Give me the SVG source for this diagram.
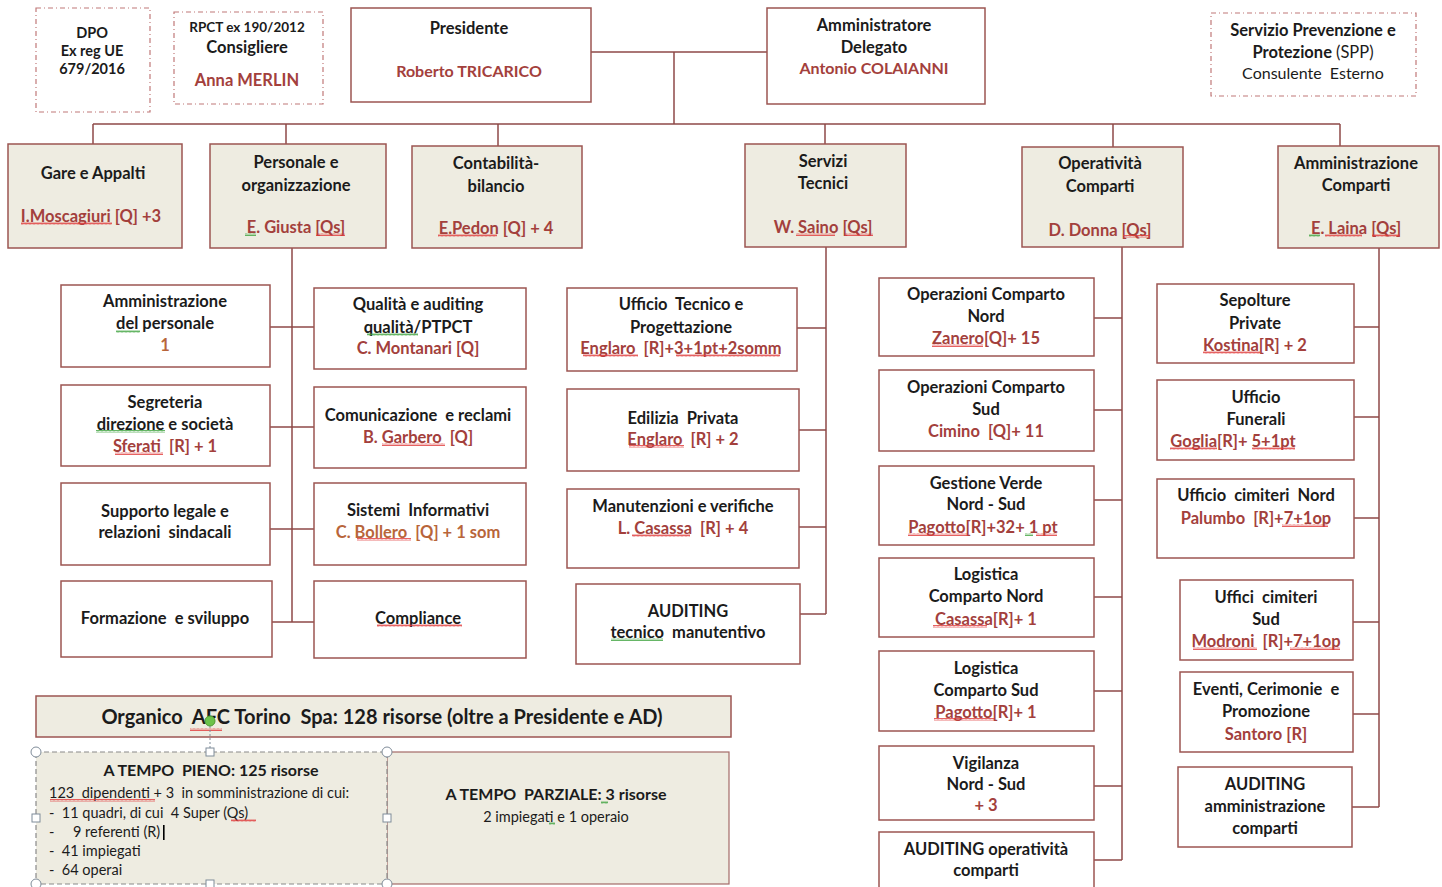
<svg xmlns="http://www.w3.org/2000/svg" width="1442" height="887" viewBox="0 0 1442 887">
<style>
text{font-family:Lato,"Open Sans","Liberation Sans",sans-serif;font-weight:700;fill:#1b1b1b;text-anchor:middle;font-size:16.5px;white-space:pre}
.r{fill:#A3403C}
.o{fill:#B8653A}
.n{font-weight:400}
.s13{font-size:13.5px}
.s14{font-size:14.5px}
.s16{font-size:16px}
.s20{font-size:20px}
.st{text-anchor:start}
.box{fill:#fff;stroke:#9C5552;stroke-width:1.5}
.l1{fill:#EEECE1;stroke:#9C5552;stroke-width:1.5}
.dash{fill:#fff;stroke:#C07878;stroke-width:1.2;stroke-dasharray:5 3 1 3}
.ln{stroke:#8E4A48;stroke-width:1.5;fill:none}
.sq{fill:url(#sqr)}
.sg{fill:url(#sqg)}
.h{fill:#fff;stroke:#7F8C99;stroke-width:1}
</style>
<defs>
<pattern id="sqr" width="4" height="3" patternUnits="userSpaceOnUse"><path d="M0 2.5 L1 0.5 L2 2.5 L3 0.5 L4 2.5" stroke="#E03A3A" stroke-width="0.8" fill="none"/></pattern>
<pattern id="sqg" width="4" height="3" patternUnits="userSpaceOnUse"><path d="M0 2.5 L1 0.5 L2 2.5 L3 0.5 L4 2.5" stroke="#3FA33F" stroke-width="0.8" fill="none"/></pattern>
</defs>
<rect width="1442" height="887" fill="#fff"/>
<g id="connectors">
<path class="ln" d="M591 52 H767 M674 52 V124 M93 124 H1340 M93 124 V144 M286 124 V144 M498 124 V146 M825 124 V144 M1113 124 V147 M1340 124 V146"/>
<path class="ln" d="M292 248 V622 M270 327 H314 M270 427 H314 M270 529 H314 M272 622 H314"/>
<path class="ln" d="M826 247 V614 M797 328 H826 M799 430 H826 M799 527 H826 M800 614 H826"/>
<path class="ln" d="M1122 247 V860 M1094 318 H1122 M1094 410 H1122 M1094 500 H1122 M1094 597 H1122 M1094 691 H1122 M1094 786 H1122 M1094 860 H1122"/>
<path class="ln" d="M1379 248 V807 M1354 327 H1379 M1354 417 H1379 M1354 518 H1379 M1353 622 H1379 M1353 714 H1379 M1352 807 H1379"/>
</g>
<g id="dpo"><rect class="dash" x="36" y="8" width="114" height="104"/>
<text class="s14" x="92" y="38">DPO</text><text class="s14" x="92" y="56">Ex reg UE</text><text class="s14" x="92" y="74">679/2016</text></g>
<g id="rpct"><rect class="dash" x="174" y="12" width="149" height="92"/>
<text class="s13" x="247" y="32">RPCT ex 190/2012</text><text x="247" y="53">Consigliere</text><text class="r" x="247" y="86">Anna MERLIN</text></g>
<g id="presidente"><rect class="box" x="351" y="8" width="240" height="94"/>
<text x="469" y="34">Presidente</text><text class="s16 r" x="469" y="77">Roberto TRICARICO</text></g>
<g id="ad"><rect class="box" x="767" y="8" width="218" height="96"/>
<text x="874" y="31">Amministratore</text><text x="874" y="53">Delegato</text><text class="s16 r" x="874" y="74">Antonio COLAIANNI</text></g>
<g id="spp"><rect class="dash" x="1211" y="13" width="205" height="83"/>
<text x="1313" y="36">Servizio Prevenzione e</text><text x="1313" y="58">Protezione <tspan class="n">(SPP)</tspan></text><text class="s16 n" x="1313" y="79">Consulente  Esterno</text></g>
<g id="gare"><rect class="l1" x="8" y="144" width="174" height="104"/>
<text x="93" y="179">Gare e Appalti</text><text class="r" x="91" y="222">I.Moscagiuri [Q] +3</text>
<rect class="sq" x="21" y="222" width="91" height="3"/></g>
<g id="personale"><rect class="l1" x="210" y="144" width="176" height="104"/>
<text x="296" y="168">Personale e</text><text x="296" y="191">organizzazione</text><text class="r" x="296" y="233">E. Giusta [Qs]</text>
<rect class="sg" x="245" y="233" width="11" height="3"/><rect class="sq" x="316" y="233" width="29" height="3"/></g>
<g id="contabilita"><rect class="l1" x="412" y="146" width="170" height="102"/>
<text x="496" y="169">Contabilità-</text><text x="496" y="192">bilancio</text><text class="r" x="496" y="234">E.Pedon [Q] + 4</text>
<rect class="sq" x="438" y="234" width="59" height="3"/></g>
<g id="servizi"><rect class="l1" x="745" y="144" width="161" height="103"/>
<text x="823" y="167">Servizi</text><text x="823" y="189">Tecnici</text><text class="r" x="823" y="233">W. Saino [Qs]</text>
<rect class="sq" x="796" y="233" width="39" height="3"/><rect class="sq" x="845" y="233" width="28" height="3"/></g>
<g id="operativita"><rect class="l1" x="1022" y="147" width="161" height="100"/>
<text x="1100" y="169">Operatività</text><text x="1100" y="192">Comparti</text><text class="r" x="1100" y="236">D. Donna [Qs]</text>
<rect class="sq" x="1123" y="235" width="27" height="3"/></g>
<g id="ammcomparti"><rect class="l1" x="1278" y="146" width="161" height="102"/>
<text x="1356" y="169">Amministrazione</text><text x="1356" y="191">Comparti</text><text class="r" x="1356" y="234">E. Laina [Qs]</text>
<rect class="sg" x="1309" y="234" width="11" height="3"/><rect class="sq" x="1325" y="234" width="37" height="3"/><rect class="sq" x="1372" y="234" width="28" height="3"/></g>
<g id="amm-personale"><rect class="box" x="61" y="285" width="209" height="82"/>
<text x="165" y="307">Amministrazione</text><text x="165" y="329">del personale</text><text class="o" x="165" y="351">1</text>
<rect class="sg" x="116" y="330" width="24" height="3"/></g>
<g id="segreteria"><rect class="box" x="61" y="385" width="209" height="81"/>
<text x="165" y="408">Segreteria</text><text x="165" y="430">direzione e società</text><text class="r" x="165" y="452">Sferati  [R] + 1</text>
<rect class="sg" x="96" y="430" width="69" height="3"/><rect class="sq" x="115" y="452" width="48" height="3"/></g>
<g id="supporto"><rect class="box" x="61" y="483" width="209" height="82"/>
<text x="165" y="517">Supporto legale e</text><text x="165" y="538">relazioni  sindacali</text></g>
<g id="formazione"><rect class="box" x="61" y="581" width="211" height="76"/>
<text x="165" y="624">Formazione  e sviluppo</text></g>
<g id="qualita"><rect class="box" x="314" y="288" width="212" height="81"/>
<text x="418" y="310">Qualità e auditing</text><text x="418" y="333">qualità/PTPCT</text><text class="r" x="418" y="354">C. Montanari [Q]</text>
<rect class="sg" x="367" y="333" width="51" height="3"/></g>
<g id="comunicazione"><rect class="box" x="314" y="387" width="212" height="81"/>
<text x="418" y="421">Comunicazione  e reclami</text><text class="r" x="418" y="443">B. Garbero  [Q]</text>
<rect class="sq" x="382" y="443" width="63" height="3"/></g>
<g id="sistemi"><rect class="box" x="314" y="483" width="212" height="82"/>
<text x="418" y="516">Sistemi  Informativi</text><text class="o" x="418" y="538">C. Bollero  [Q] + 1 som</text>
<rect class="sq" x="357" y="538" width="54" height="3"/></g>
<g id="compliance"><rect class="box" x="314" y="581" width="212" height="77"/>
<text x="418" y="624">Compliance</text>
<rect class="sq" x="377" y="624" width="85" height="3"/></g>
<g id="ufficio-tecnico"><rect class="box" x="567" y="288" width="230" height="83"/>
<text x="681" y="310">Ufficio  Tecnico e</text><text x="681" y="333">Progettazione</text><text class="r" x="681" y="354">Englaro  [R]+3+1pt+2somm</text>
<rect class="sq" x="583" y="354" width="55" height="3"/><rect class="sq" x="676" y="354" width="104" height="3"/></g>
<g id="edilizia"><rect class="box" x="567" y="389" width="232" height="82"/>
<text x="683" y="424">Edilizia  Privata</text><text class="r" x="683" y="445">Englaro  [R] + 2</text>
<rect class="sq" x="629" y="445" width="55" height="3"/></g>
<g id="manutenzioni"><rect class="box" x="567" y="489" width="232" height="79"/>
<text x="683" y="512">Manutenzioni e verifiche</text><text class="r" x="683" y="534">L. Casassa  [R] + 4</text>
<rect class="sq" x="632" y="534" width="58" height="3"/></g>
<g id="auditing-tecnico"><rect class="box" x="576" y="584" width="224" height="80"/>
<text x="688" y="617">AUDITING</text><text x="688" y="638">tecnico  manutentivo</text>
<rect class="sg" x="611" y="638" width="52" height="3"/></g>
<g id="op-nord"><rect class="box" x="879" y="278" width="215" height="78"/>
<text x="986" y="300">Operazioni Comparto</text><text x="986" y="322">Nord</text><text class="r" x="986" y="344">Zanero[Q]+ 15</text>
<rect class="sq" x="932" y="344" width="51" height="3"/></g>
<g id="op-sud"><rect class="box" x="879" y="370" width="215" height="81"/>
<text x="986" y="393">Operazioni Comparto</text><text x="986" y="415">Sud</text><text class="r" x="986" y="437">Cimino  [Q]+ 11</text></g>
<g id="verde"><rect class="box" x="879" y="466" width="215" height="79"/>
<text x="986" y="489">Gestione Verde</text><text x="986" y="510">Nord - Sud</text><text class="r" x="983" y="533">Pagotto[R]+32+ 1 pt</text>
<rect class="sq" x="908" y="533" width="60" height="3"/><rect class="sg" x="1025" y="533" width="8" height="3"/><rect class="sq" x="1036" y="533" width="21" height="3"/></g>
<g id="log-nord"><rect class="box" x="879" y="558" width="215" height="79"/>
<text x="986" y="580">Logistica</text><text x="986" y="602">Comparto Nord</text><text class="r" x="986" y="625">Casassa[R]+ 1</text>
<rect class="sq" x="933" y="625" width="54" height="3"/></g>
<g id="log-sud"><rect class="box" x="879" y="651" width="215" height="80"/>
<text x="986" y="674">Logistica</text><text x="986" y="696">Comparto Sud</text><text class="r" x="986" y="718">Pagotto[R]+ 1</text>
<rect class="sq" x="934" y="718" width="60" height="3"/></g>
<g id="vigilanza"><rect class="box" x="879" y="746" width="215" height="74"/>
<text x="986" y="769">Vigilanza</text><text x="986" y="790">Nord - Sud</text><text class="r" x="986" y="811">+ 3</text></g>
<g id="auditing-op"><rect class="box" x="879" y="832" width="215" height="60"/>
<text x="986" y="855">AUDITING operatività</text><text x="986" y="876">comparti</text></g>
<g id="sepolture"><rect class="box" x="1157" y="284" width="197" height="79"/>
<text x="1255" y="306">Sepolture</text><text x="1255" y="329">Private</text><text class="r" x="1255" y="351">Kostina[R] + 2</text>
<rect class="sq" x="1203" y="351" width="57" height="3"/></g>
<g id="funerali"><rect class="box" x="1157" y="380" width="197" height="80"/>
<text x="1256" y="403">Ufficio</text><text x="1256" y="425">Funerali</text><text class="r" x="1233" y="447">Goglia[R]+ 5+1pt</text>
<rect class="sq" x="1170" y="447" width="47" height="3"/><rect class="sq" x="1252" y="447" width="43" height="3"/></g>
<g id="cimiteri-nord"><rect class="box" x="1157" y="479" width="197" height="79"/>
<text x="1256" y="501">Ufficio  cimiteri  Nord</text><text class="r" x="1256" y="524">Palumbo  [R]+7+1op</text>
<rect class="sq" x="1282" y="524" width="46" height="3"/></g>
<g id="cimiteri-sud"><rect class="box" x="1180" y="580" width="173" height="80"/>
<text x="1266" y="603">Uffici  cimiteri</text><text x="1266" y="625">Sud</text><text class="r" x="1266" y="647">Modroni  [R]+7+1op</text>
<rect class="sq" x="1193" y="647" width="64" height="3"/><rect class="sq" x="1290" y="647" width="50" height="3"/></g>
<g id="eventi"><rect class="box" x="1180" y="672" width="173" height="80"/>
<text x="1266" y="695">Eventi, Cerimonie  e</text><text x="1266" y="717">Promozione</text><text class="r" x="1266" y="740">Santoro [R]</text></g>
<g id="auditing-amm"><rect class="box" x="1178" y="767" width="174" height="80"/>
<text x="1265" y="790">AUDITING</text><text x="1265" y="812">amministrazione</text><text x="1265" y="834">comparti</text></g>
<g id="organico"><rect class="l1" x="36" y="696" width="695" height="41"/>
<text class="s20" x="382" y="724">Organico  AFC Torino  Spa: 128 risorse (oltre a Presidente e AD)</text>
<rect class="sq" x="190" y="728" width="32" height="3"/></g>
<g id="tempo-parziale"><rect x="387" y="752" width="342" height="132" fill="#EEECE1" stroke="#A46B68" stroke-width="1.2"/>
<text class="s16" x="556" y="800">A TEMPO  PARZIALE: 3 risorse</text>
<text class="s14 n" x="556" y="822">2 impiegati e 1 operaio</text>
<rect class="sg" x="601" y="801" width="7" height="3"/><rect class="sg" x="549" y="822" width="6" height="3"/></g>
<g id="tempo-pieno"><rect x="36" y="752" width="351" height="132" fill="#EEECE1" stroke="#8A8A8A" stroke-width="1.2" stroke-dasharray="5 3"/>
<text class="s16" x="211" y="776">A TEMPO  PIENO: 125 risorse</text>
<text class="s14 n st" x="49" y="798">123  dipendenti + 3  in somministrazione di cui:</text>
<text class="s14 n st" x="49" y="818">-  11 quadri, di cui  4 Super (Qs)</text>
<text class="s14 n st" x="49" y="837">-     9 referenti (R)</text>
<text class="s14 n st" x="49" y="856">-  41 impiegati</text>
<text class="s14 n st" x="49" y="875">-  64 operai</text>
<rect class="sq" x="50" y="799" width="105" height="3"/><rect class="sq" x="231" y="819" width="25" height="3"/>
<rect x="163" y="825" width="1.6" height="15" fill="#000"/>
<path d="M210 726 V752" stroke="#7F8C99" stroke-width="1" stroke-dasharray="2 2"/>
<circle cx="210" cy="721" r="5" fill="#6CC24A" stroke="#4E9A34" stroke-width="1"/>
<circle class="h" cx="36" cy="752" r="5"/><circle class="h" cx="387" cy="752" r="5"/><circle class="h" cx="36" cy="884" r="5"/><circle class="h" cx="387" cy="884" r="5"/>
<rect class="h" x="206" y="748" width="8" height="8"/><rect class="h" x="32" y="814" width="8" height="8"/><rect class="h" x="383" y="814" width="8" height="8"/><rect class="h" x="206" y="880" width="8" height="8"/>
</g>
</svg>
